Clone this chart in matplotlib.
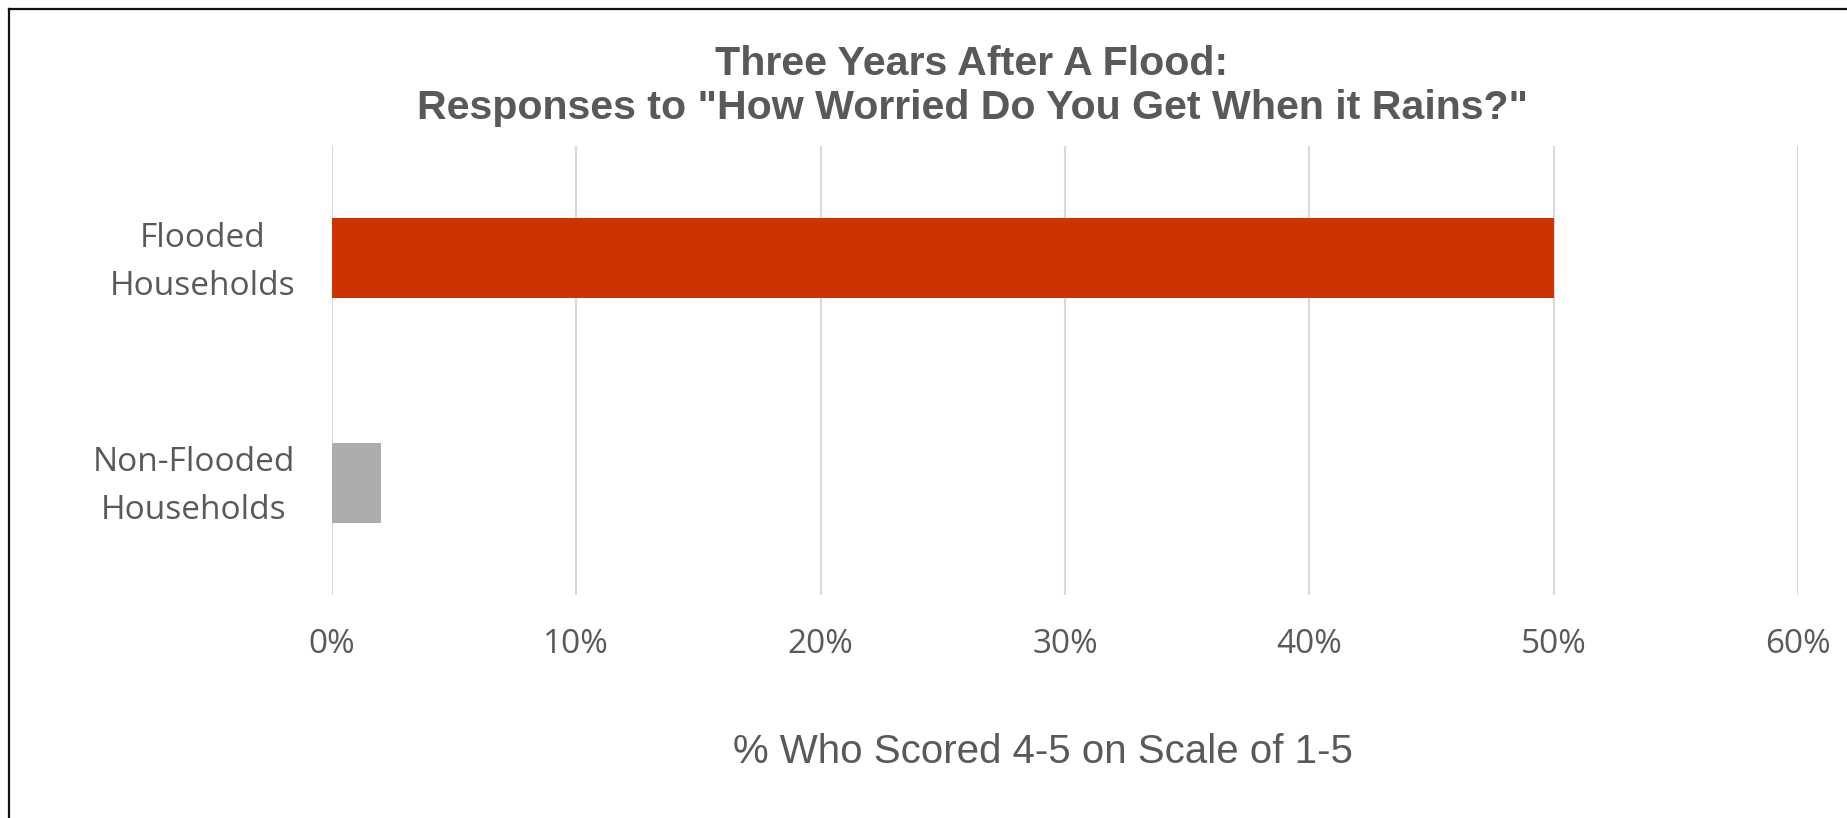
import matplotlib.pyplot as plt
import matplotlib.transforms as mtransforms
from matplotlib.lines import Line2D
import numpy as np

categories = ['Flooded\nHouseholds', 'Non-Flooded\nHouseholds']
values = [50, 2]
bar_colors = ['#CC3300', '#AEABAB']
x_ticks = [0, 10, 20, 30, 40, 50, 60]
x_tick_labels = ['0%', '10%', '20%', '30%', '40%', '50%', '60%']

text_color = '#595959'
W, H = 1847, 818

fig = plt.figure(figsize=(W / 100, H / 100), dpi=100)
ax = fig.add_axes([332 / W, 1 - 595 / H, 1466 / W, 449 / H])

ypos = np.arange(len(categories))[::-1]
ax.barh(ypos, values, height=0.356, color=bar_colors, zorder=3)

ax.set_xlim(0, 60)
ax.set_ylim(-0.5, 1.5)
ax.set_xticks(x_ticks)
ax.set_xticklabels(x_tick_labels, fontfamily='Open Sans', fontsize=24, color=text_color)
ax.set_yticks(ypos)
ax.set_yticklabels([])
ax.tick_params(axis='both', length=0)
ax.tick_params(axis='x', pad=23.5)

# category labels, placed left of the axis (right edge ~37 px from it)
lab_trans = ax.get_yaxis_transform() + mtransforms.ScaledTranslation(-37 / 100, -4 / 100, fig.dpi_scale_trans)
for y, cat in zip(ypos, categories):
    ax.text(0, y, cat, transform=lab_trans, ha='right', va='center',
            multialignment='center', linespacing=1.6,
            fontfamily='Open Sans', fontsize=24, color=text_color)

ax.grid(axis='x', color='#D9D9D9', linewidth=1.5, zorder=0)
for s in ax.spines.values():
    s.set_visible(False)

fig.text(972 / W, 1 - 86 / H,
         'Three Years After A Flood:\nResponses to "How Worried Do You Get When it Rains?"',
         ha='center', va='center', fontfamily='Liberation Sans', fontweight='bold',
         fontsize=29.6, color=text_color, linespacing=1.22)

fig.text(1043 / W, 1 - 752 / H, '% Who Scored 4-5 on Scale of 1-5',
         ha='center', va='center', fontfamily='Liberation Sans', fontsize=29,
         color=text_color)

# frame: only top and left edges visible
fig.add_artist(Line2D([9 / W, 9 / W], [0, 1 - 9 / H], color='#111111', linewidth=1.6))
fig.add_artist(Line2D([9 / W, 1], [1 - 9 / H, 1 - 9 / H], color='#111111', linewidth=1.6))

fig.savefig('out.png', dpi=100)
